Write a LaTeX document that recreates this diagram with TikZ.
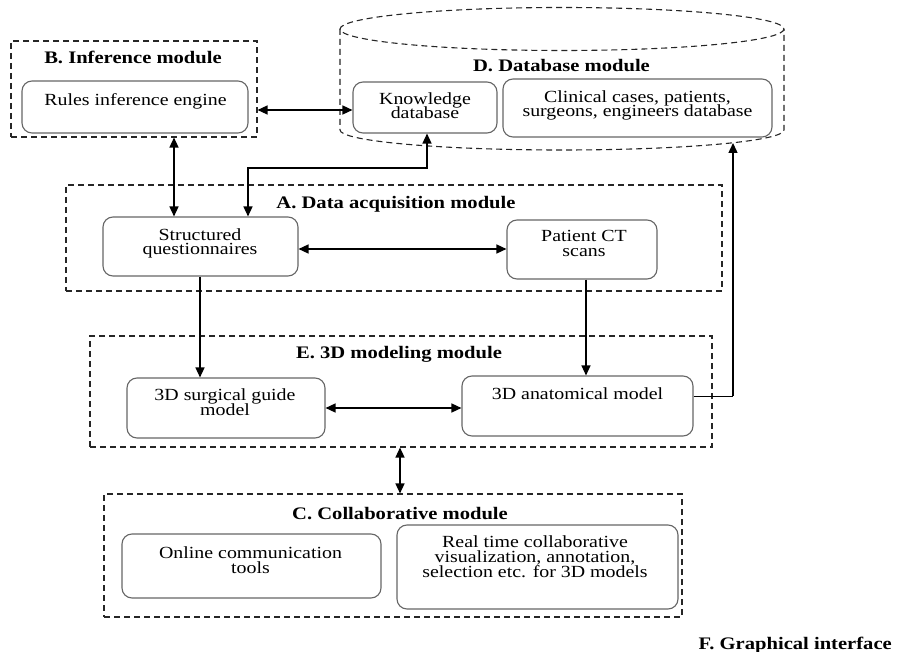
\documentclass[tikz,border=0pt]{standalone}
\usepackage{fontspec}
\setmainfont{Liberation Serif}[FakeStretch=1.17]
\usetikzlibrary{arrows.meta,fit}
\newcommand\tightlines{\setlength{\lineskiplimit}{-20pt}\setlength{\lineskip}{0pt}}
\tikzset{
  dashbox/.style={draw=black!85, line width=1.1pt, dash pattern=on 6pt off 4pt},
  rbox/.style={draw=black!60, line width=1.1pt, rounded corners=10pt, inner sep=0pt},
  ttl/.style={font=\fontsize{17.6}{19}\selectfont\bfseries, inner sep=0pt, anchor=base},
  txt/.style={font=\fontsize{17}{14.8}\selectfont\tightlines, align=center, inner sep=0pt, anchor=base},
  conn/.style={line width=1.4pt, {Triangle[length=10pt,width=9pt]}-{Triangle[length=10pt,width=9pt]}},
  conn1/.style={line width=1.4pt, -{Triangle[length=10pt,width=9pt]}}
}
\begin{document}
\begin{tikzpicture}[x=1pt,y=-1pt]
\useasboundingbox (0,0) rectangle (897,652);
% B module
\node[dashbox, fit={(11,41) (257,137)}, inner sep=0pt] (B) {};
\node[ttl] (Bt) at (133,64) {B. Inference module};
\node[rbox, fit={(22,81) (248,133)}] (rie) {};
\node[txt] (riet) at (135.5,106) {Rules inference engine};
% D cylinder
\draw[dashbox] (562,29) ellipse [x radius=222, y radius=21.5];
\draw[dashbox] (340,29) -- (340,130) arc[start angle=180, end angle=0, x radius=222, y radius=20] -- (784,29);
\coordinate (dbbot) at (733,143);
\node[ttl] (Dt) at (561.5,72) {D. Database module};
\node[rbox, fit={(353,82) (497,133)}] (kd) {};
\node[txt] (kdt) at (425,119) {Knowledge\\database};
\node[rbox, fit={(503,79) (772,137)}] (cc) {};
\node[txt] (cct) at (637.5,117) {Clinical cases, patients,\\surgeons, engineers database};
% A module
\node[dashbox, fit={(66,185) (722,291)}, inner sep=0pt] (A) {};
\node[ttl] (At) at (396,209) {A. Data acquisition module};
\node[rbox, fit={(103,217) (298,276)}] (sq) {};
\node[txt] (sqt) at (200,255) {Structured\\questionnaires};
\node[rbox, fit={(507,220) (657,279)}] (ct) {};
\node[txt] (ctt) at (584,256.5) {Patient CT\\scans};
% E module
\node[dashbox, fit={(90,336) (712,447)}, inner sep=0pt] (E) {};
\node[ttl] (Et) at (399,359) {E. 3D modeling module};
\node[rbox, fit={(127,378) (325,438)}] (sg) {};
\node[txt] (sgt) at (225,415) {3D surgical guide\\model};
\node[rbox, fit={(462,376) (693,436)}] (am) {};
\node[txt] (amt) at (577.5,399) {3D anatomical model};
% C module
\node[dashbox, fit={(104,494) (682,617)}, inner sep=0pt] (C) {};
\node[ttl] (Ct) at (400,519) {C. Collaborative module};
\node[rbox, fit={(122,534) (381,598)}] (oc) {};
\node[txt] (oct) at (250.5,573) {Online communication\\tools};
\node[rbox, fit={(397,525) (678,609)}] (rt) {};
\node[txt] (rtt) at (535,577.5) {Real time collaborative\\visualization, annotation,\\selection etc. for 3D models};
% F
\node[ttl, anchor=base east] (F) at (892,649) {F. Graphical interface};
% connectors
\draw[conn] (B.east |- 0,110) -- (kd.west |- 0,110);
\draw[conn] (B.south -| 174,0) -- (sq.north -| 174,0);
\draw[conn] (kd.south -| 427,0) -- (427,168) -- (248,168) -- (sq.north -| 248,0);
\draw[conn] (sq.east |- 0,249) -- (ct.west |- 0,249);
\draw[conn1] (sq.south -| 200,0) -- (sg.north -| 200,0);
\draw[conn1] (ct.south -| 586,0) -- (am.north -| 586,0);
\draw[conn] (sg.east |- 0,408) -- (am.west |- 0,408);
\draw[line width=1pt] (am.east |- 0,396) -- (733,396);
\draw[conn1] (733,396) -- (dbbot);
\draw[conn] (E.south -| 400,0) -- (C.north -| 400,0);
\end{tikzpicture}
\end{document}
